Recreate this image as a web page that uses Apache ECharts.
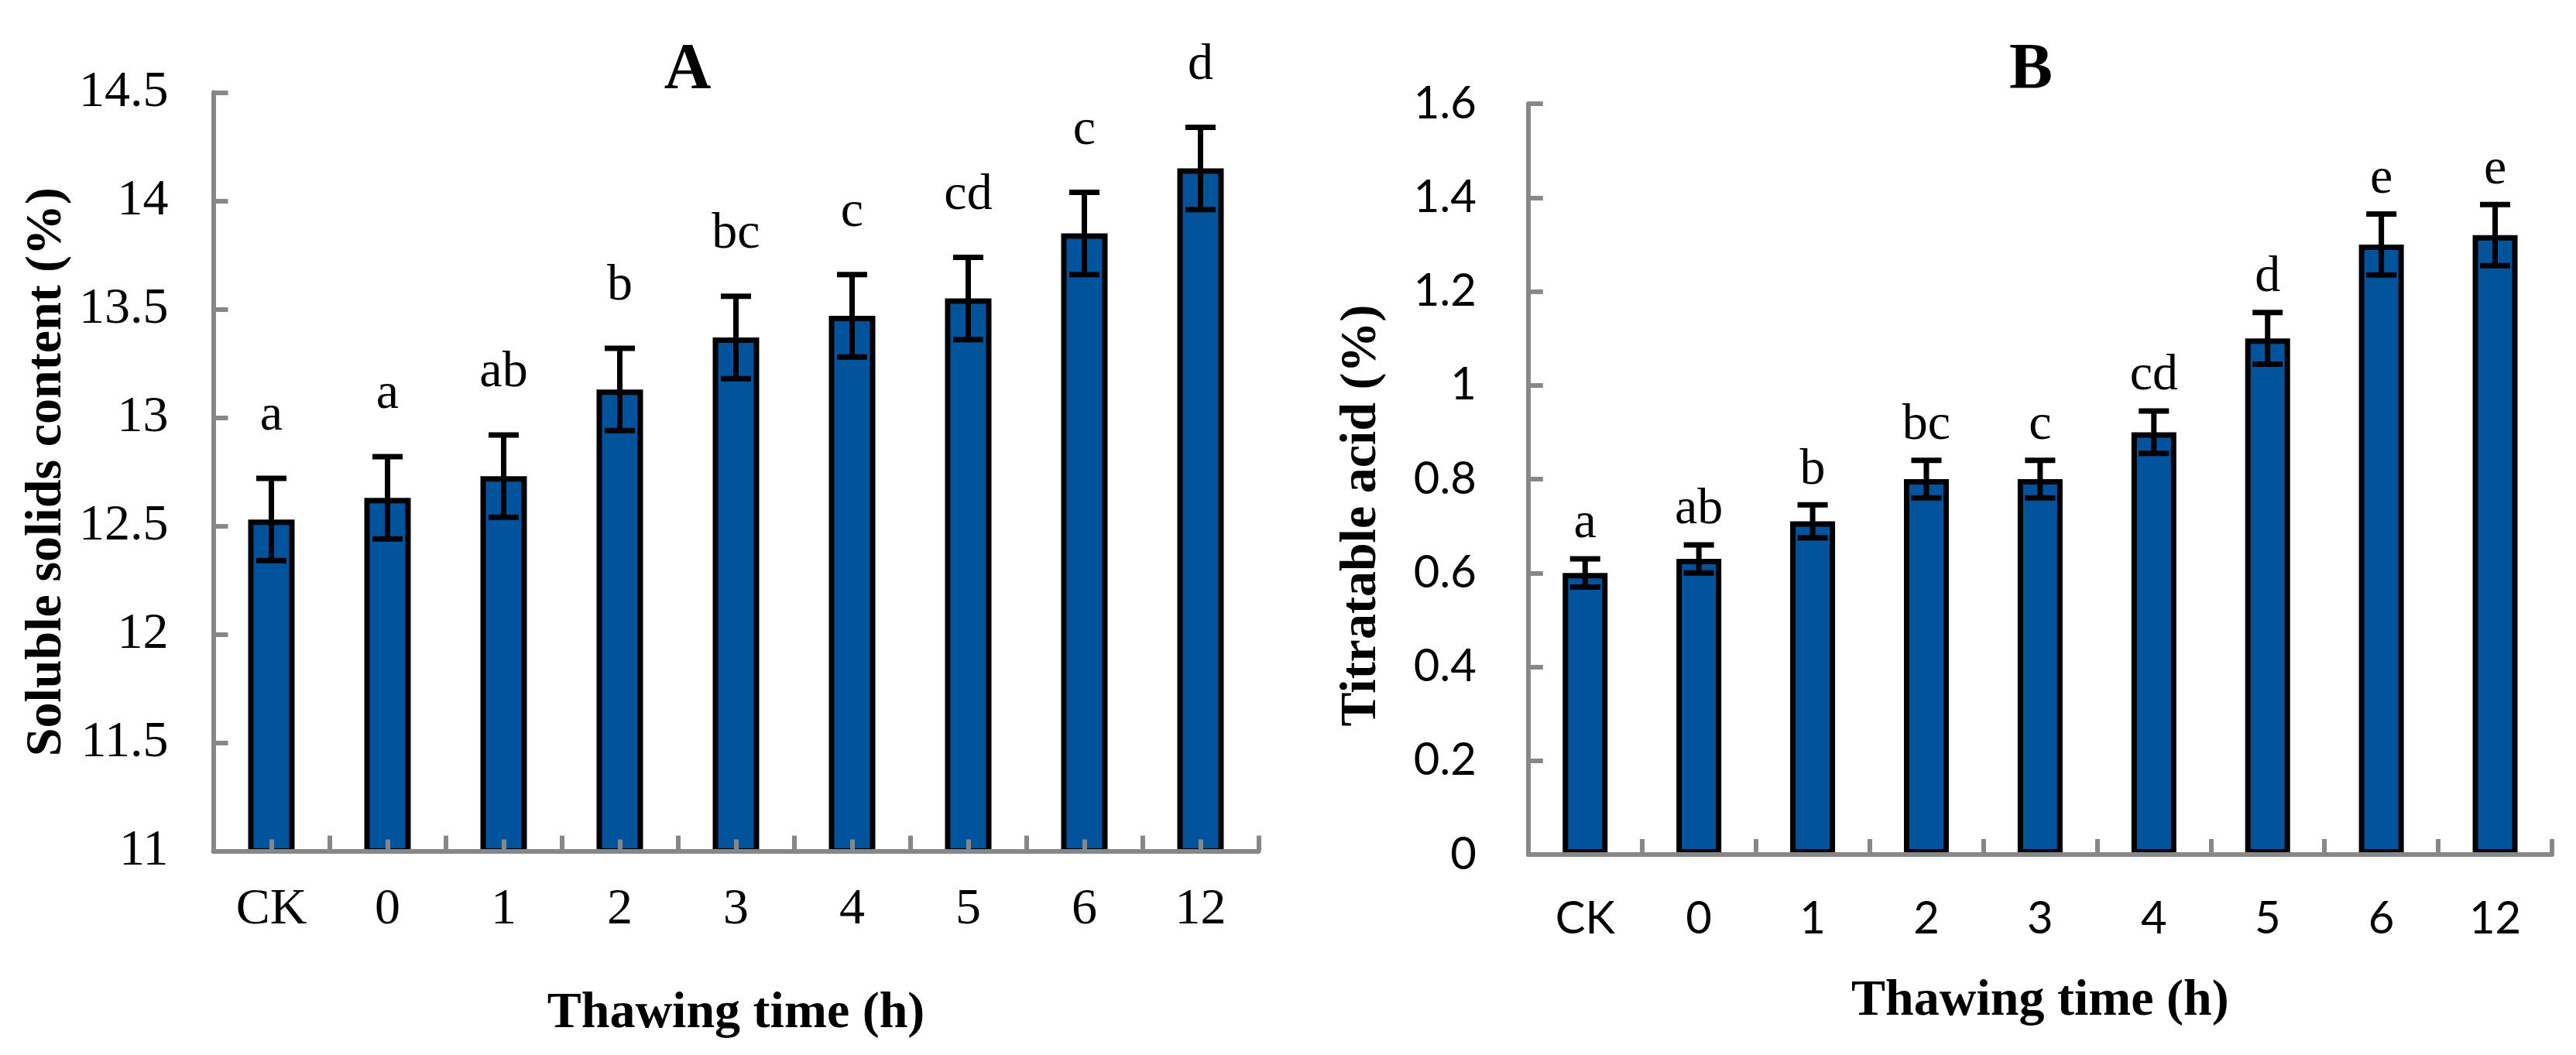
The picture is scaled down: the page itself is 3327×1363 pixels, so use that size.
<!DOCTYPE html>
<html>
<head>
<meta charset="utf-8">
<script src="https://cdn.jsdelivr.net/npm/echarts@6/dist/echarts.min.js"></script>
<style>
html,body{margin:0;padding:0;background:#fff;}
#chart{width:3327px;height:1363px;}
</style>
</head>
<body>
<div id="chart"></div>
<script>
// ---- data ----
const categories = ['CK', '0', '1', '2', '3', '4', '5', '6', '12'];
const solubleMean = [12.53, 12.63, 12.73, 13.13, 13.37, 13.47, 13.55, 13.85, 14.15];
const solubleErr = [0.19, 0.19, 0.19, 0.19, 0.19, 0.19, 0.19, 0.19, 0.19];
const solubleLetters = ['a', 'a', 'ab', 'b', 'bc', 'c', 'cd', 'c', 'd'];
const acidMean = [0.60, 0.63, 0.71, 0.80, 0.80, 0.90, 1.10, 1.30, 1.32];
const acidErr = [0.03, 0.03, 0.035, 0.04, 0.04, 0.045, 0.055, 0.065, 0.065];
const acidLetters = ['a', 'ab', 'b', 'bc', 'c', 'cd', 'd', 'e', 'e'];

// ---- styles ----
const SERIF = 'Liberation Serif, Times New Roman, serif';
const SANS = 'Lato, Carlito, sans-serif';
const GREY = '#878787';
const BLUE = '#01539C';

function errData(means, errs, letters) {
  return means.map((m, i) => [i, m, errs[i], letters[i]]);
}

function makeErrRender(letterOffset) {
  return function (params, api) {
    const i = api.value(0);
    const m = api.value(1);
    const e = api.value(2);
    const letter = errSource[params.seriesIndex][params.dataIndex][3];
    const top = api.coord([i, m + e]);
    const bot = api.coord([i, m - e]);
    const half = 19.5;
    const st = { stroke: '#000', lineWidth: 7 };
    return {
      type: 'group',
      children: [
        { type: 'line', shape: { x1: top[0], y1: top[1], x2: bot[0], y2: bot[1] }, style: st },
        { type: 'line', shape: { x1: top[0] - half, y1: top[1], x2: top[0] + half, y2: top[1] }, style: st },
        { type: 'line', shape: { x1: bot[0] - half, y1: bot[1], x2: bot[0] + half, y2: bot[1] }, style: st },
        { type: 'text', x: top[0], y: top[1] - letterOffset,
          style: { text: letter, fill: '#000', font: '66px ' + SERIF, align: 'center', verticalAlign: 'bottom' } }
      ]
    };
  };
}

const errSource = {};
const dataA = errData(solubleMean, solubleErr, solubleLetters);
const dataB = errData(acidMean, acidErr, acidLetters);
errSource[1] = dataA;
errSource[3] = dataB;

function catAxis(gridIndex, opts) {
  return Object.assign({
    type: 'category',
    gridIndex: gridIndex,
    data: categories,
    position: 'bottom',
    z: 10,
    axisLine: { show: true, lineStyle: { color: GREY, width: 6 } },
    axisTick: { show: true, inside: true, interval: 0, length: 20, lineStyle: { color: GREY, width: 6 } },
    splitLine: { show: false }
  }, opts);
}

const chart = echarts.init(document.getElementById('chart'), null, { renderer: 'canvas', width: 3327, height: 1363 });

const option = {
  backgroundColor: '#fff',
  animation: false,
  title: [
    { text: 'A', left: 883, top: 45, textAlign: 'center',
      textStyle: { fontFamily: SERIF, fontWeight: 'bold', fontSize: 84, color: '#000' } },
    { text: 'B', left: 2618, top: 45, textAlign: 'center',
      textStyle: { fontFamily: SERIF, fontWeight: 'bold', fontSize: 84, color: '#000' } }
  ],
  grid: [
    { left: 275.5, top: 119.6, width: 1350, height: 979.9, containLabel: false, outerBoundsMode: 'none' },
    { left: 1973.8, top: 134, width: 1322.2, height: 970, containLabel: false, outerBoundsMode: 'none' }
  ],
  xAxis: [
    catAxis(0, {
      name: 'Thawing time (h)', nameLocation: 'middle', nameGap: 177,
      nameTextStyle: { fontFamily: SERIF, fontWeight: 'bold', fontSize: 66, color: '#000' },
      axisLabel: { interval: 0, margin: 43, fontFamily: SERIF, fontSize: 66, color: '#000' }
    }),
    catAxis(0, {
      axisLine: { show: false },
      axisLabel: { show: false },
      axisTick: { show: true, inside: true, interval: 0, alignWithLabel: true, length: 15, lineStyle: { color: GREY, width: 6 } }
    }),
    catAxis(1, {
      name: 'Thawing time (h)', nameLocation: 'middle', nameGap: 157,
      nameTextStyle: { fontFamily: SERIF, fontWeight: 'bold', fontSize: 66, color: '#000' },
      axisLabel: { interval: 0, margin: 54, fontFamily: SANS, fontSize: 58, color: '#000' }
    })
  ],
  yAxis: [
    {
      type: 'value', gridIndex: 0, min: 11, max: 14.5, interval: 0.5,
      name: 'Soluble solids content (%)', nameLocation: 'middle', nameGap: 182, nameRotate: 90,
      nameTextStyle: { fontFamily: SERIF, fontWeight: 'bold', fontSize: 66, color: '#000' },
      axisLine: { show: true, lineStyle: { color: GREY, width: 6 } },
      axisTick: { show: true, inside: true, length: 19, lineStyle: { color: GREY, width: 6 } },
      axisLabel: { margin: 58, fontFamily: SERIF, fontSize: 66, color: '#000' },
      splitLine: { show: false }
    },
    {
      type: 'value', gridIndex: 1, min: 0, max: 1.6, interval: 0.2,
      name: 'Titratable acid (%)', nameLocation: 'middle', nameGap: 182, nameRotate: 90,
      nameTextStyle: { fontFamily: SERIF, fontWeight: 'bold', fontSize: 66, color: '#000', padding: [0, 94, 0, 0] },
      axisLine: { show: true, lineStyle: { color: GREY, width: 6 } },
      axisTick: { show: true, inside: true, length: 19, lineStyle: { color: GREY, width: 6 } },
      axisLabel: { margin: 67, fontFamily: SANS, fontSize: 58, color: '#000' },
      splitLine: { show: false }
    }
  ],
  series: [
    {
      type: 'bar', xAxisIndex: 0, yAxisIndex: 0, data: solubleMean, barWidth: 60,
      itemStyle: { color: BLUE, borderColor: '#000', borderWidth: 7 }
    },
    {
      type: 'custom', xAxisIndex: 0, yAxisIndex: 0, z: 5,
      renderItem: makeErrRender(47), data: dataA.map(d => d.slice(0, 3)),
      encode: { x: 0, y: 1 }
    },
    {
      type: 'bar', xAxisIndex: 2, yAxisIndex: 1, data: acidMean, barWidth: 58,
      itemStyle: { color: BLUE, borderColor: '#000', borderWidth: 7 }
    },
    {
      type: 'custom', xAxisIndex: 2, yAxisIndex: 1, z: 5,
      renderItem: makeErrRender(12), data: dataB.map(d => d.slice(0, 3)),
      encode: { x: 0, y: 1 }
    }
  ]
};
chart.setOption(option);
</script>
</body>
</html>
